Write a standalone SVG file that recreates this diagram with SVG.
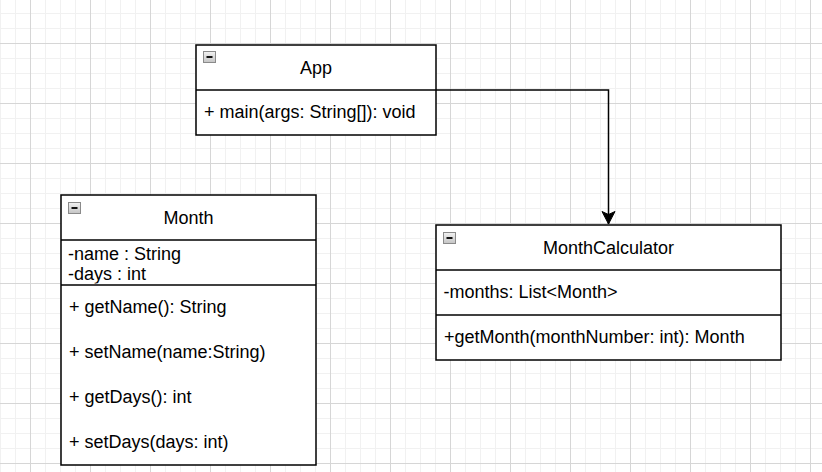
<svg xmlns="http://www.w3.org/2000/svg" width="822" height="472" viewBox="0 0 822 472">
<style>
.box{fill:#ffffff;stroke:#000000;stroke-width:1.5}
.div{stroke:#000000;stroke-width:1.5;fill:none}
.t{font-family:"Liberation Sans",Arial,Helvetica,sans-serif;font-size:18px;fill:#000000}
.title{text-anchor:middle}
.icon{fill:url(#iconGrad);stroke:#8a8a8a;stroke-width:1}
.minus{stroke:#111111;stroke-width:2}
.edge{stroke:#000000;stroke-width:1.5;fill:none}
</style>
<defs>
<pattern id="minor" patternUnits="userSpaceOnUse" x="0" y="13" width="15" height="15">
<rect x="0" y="0" width="1" height="15" fill="#f1f1f1"/>
<rect x="0" y="0" width="15" height="1" fill="#f1f1f1"/>
</pattern>
<pattern id="major" patternUnits="userSpaceOnUse" x="30" y="43" width="60" height="60">
<rect x="0" y="0" width="1" height="60" fill="#d6d6d6"/>
<rect x="0" y="0" width="60" height="1" fill="#d6d6d6"/>
</pattern>
<linearGradient id="iconGrad" x1="0" y1="0" x2="0" y2="1">
<stop offset="0" stop-color="#f2f2f2"/>
<stop offset="1" stop-color="#c4c4c4"/>
</linearGradient>
<clipPath id="monthAttrClip"><rect x="61" y="240" width="255" height="43.5"/></clipPath>
<marker id="arrow" markerUnits="userSpaceOnUse" markerWidth="16" markerHeight="16" viewBox="0 0 16 16" refX="14" refY="8" orient="auto">
<path d="M14,8 L1.5,1.5 L4.5,8 L1.5,14.5 Z" fill="#000000" stroke="#000000" stroke-width="1"/>
</marker>
</defs>
<rect x="0" y="0" width="822" height="472" fill="#ffffff"/>
<rect x="0" y="0" width="822" height="472" fill="url(#minor)"/>
<rect x="0" y="0" width="822" height="472" fill="url(#major)"/>

<g id="connectors">
<path class="edge" d="M436,90 L608.5,90 L608.5,224" marker-end="url(#arrow)"/>
</g>

<g id="App">
<rect class="box" x="196" y="45" width="240" height="90"/>
<line class="div" x1="196" y1="90" x2="436" y2="90"/>
<rect class="icon" x="203.5" y="51.5" width="12" height="11"/>
<line class="minus" x1="206.5" y1="57" x2="212.5" y2="57"/>
<text class="t title" x="316" y="73.5">App</text>
<text class="t" x="204" y="118">+ main(args: String[]): void</text>
</g>

<g id="Month">
<rect class="box" x="61" y="195" width="255" height="270"/>
<line class="div" x1="61" y1="240" x2="316" y2="240"/>
<line class="div" x1="61" y1="285" x2="316" y2="285"/>
<rect class="icon" x="68.5" y="202.5" width="12" height="11"/>
<line class="minus" x1="71.5" y1="208" x2="77.5" y2="208"/>
<text class="t title" x="188.5" y="223.5">Month</text>
<g clip-path="url(#monthAttrClip)">
<text class="t" x="68" y="259.5">-name : String</text>
<text class="t" x="68" y="279.5">-days : int</text>
</g>
<text class="t" x="69" y="312.5">+ getName(): String</text>
<text class="t" x="69" y="357.5">+ setName(name:String)</text>
<text class="t" x="69" y="402.5">+ getDays(): int</text>
<text class="t" x="69" y="447.5">+ setDays(days: int)</text>
</g>

<g id="MonthCalculator">
<rect class="box" x="436" y="225" width="345" height="135"/>
<line class="div" x1="436" y1="270" x2="781" y2="270"/>
<line class="div" x1="436" y1="315" x2="781" y2="315"/>
<rect class="icon" x="443.5" y="232.5" width="12" height="11"/>
<line class="minus" x1="446.5" y1="238" x2="452.5" y2="238"/>
<text class="t title" x="608.5" y="253.5">MonthCalculator</text>
<text class="t" x="443.5" y="298">-months: List&lt;Month&gt;</text>
<text class="t" x="444" y="342.5">+getMonth(monthNumber: int): Month</text>
</g>
</svg>
